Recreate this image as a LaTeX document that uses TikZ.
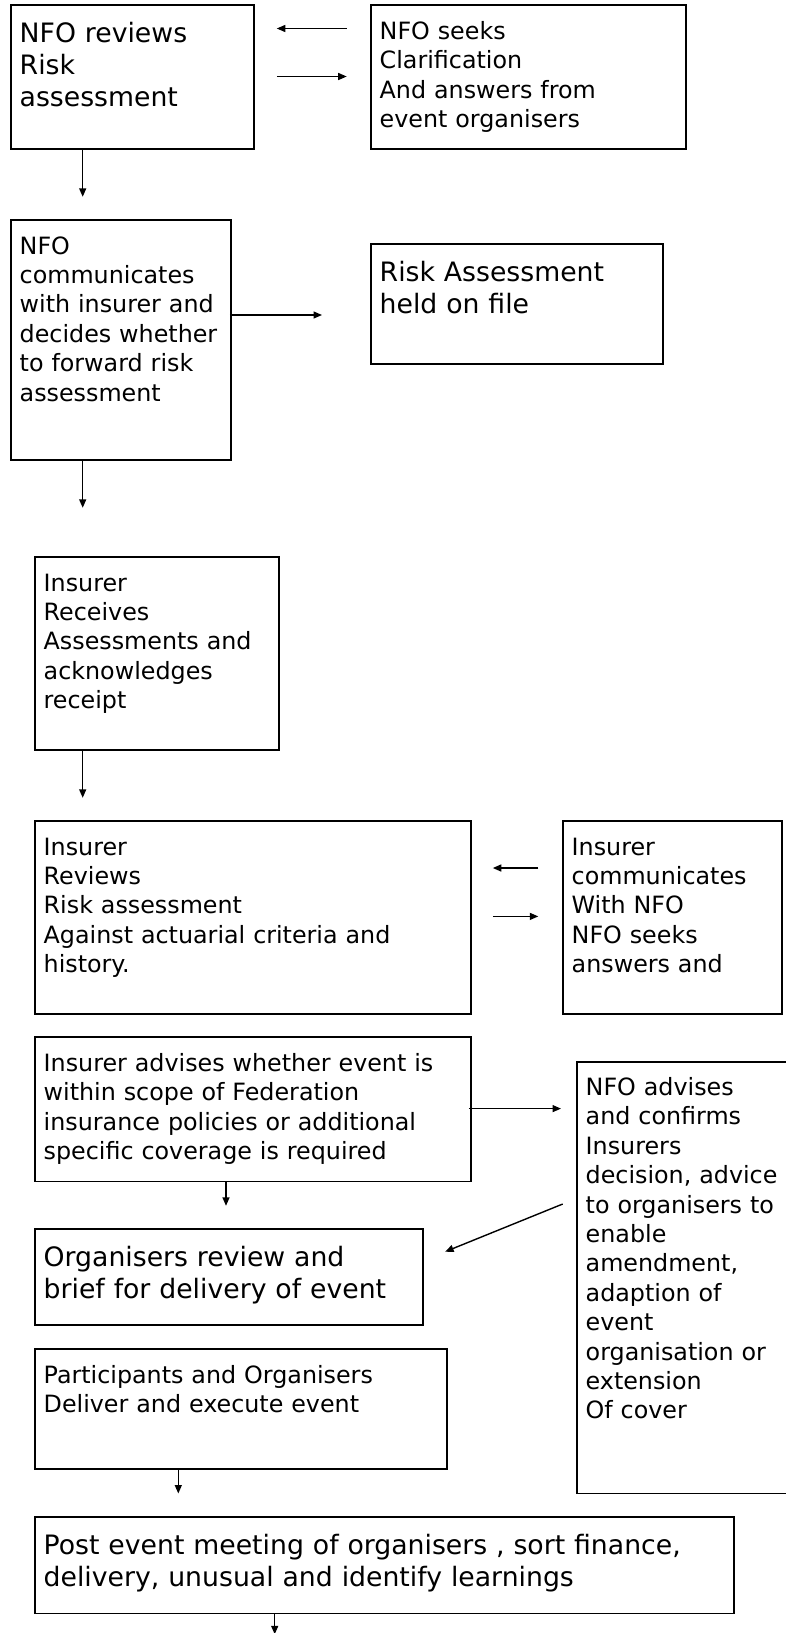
\documentclass[tikz,border=0pt]{standalone}
\usepackage{fontspec}
\setmainfont{DejaVu Sans}
\usetikzlibrary{arrows.meta,calc}
\begin{document}
\begin{tikzpicture}[x=1pt,y=-1pt,
  boxx/.style={draw, line width=1.8pt, rectangle, inner sep=0pt, anchor=north west},
  smalltxt/.style={anchor=base west, inner sep=0pt, text width=500pt, align=left,
     font=\fontsize{23.8}{29.4}\selectfont},
  bigtxt/.style={anchor=base west, inner sep=0pt, text width=700pt, align=left,
     font=\fontsize{26.7}{32.3}\selectfont},
  arr/.style={line width=1.4pt, -{Triangle[length=8.5pt,width=7pt]}}]
\useasboundingbox[fill=white] (0,0) rectangle (786,1633);

% boxes
\node[boxx, minimum width=243pt, minimum height=143.7pt] (A) at (10,4.3) {};
\node[boxx, minimum width=315pt, minimum height=143.7pt] (B) at (370,4.3) {};
\node[boxx, minimum width=220pt, minimum height=240pt] (C) at (10,219) {};
\node[boxx, minimum width=292pt, minimum height=120pt] (D) at (370,243) {};
\node[boxx, minimum width=244pt, minimum height=193pt] (E) at (34,556) {};
\node[boxx, minimum width=436pt, minimum height=193pt] (F) at (34,820) {};
\node[boxx, minimum width=219pt, minimum height=193pt] (G) at (562,820) {};
\node[boxx, minimum width=436pt, minimum height=144.5pt] (H) at (34,1036) {};
\node[boxx, minimum width=230pt, minimum height=431.5pt] (J) at (576,1061) {};
\node[boxx, minimum width=388pt, minimum height=96pt] (K) at (34,1228) {};
\node[boxx, minimum width=412pt, minimum height=120pt] (L) at (34,1348) {};
\node[boxx, minimum width=699pt, minimum height=96.5pt] (M) at (34,1516) {};

% texts
\node[bigtxt] (At) at ($(A.north west)+(9.5,38)$) {NFO reviews\\Risk\\assessment};
\node[smalltxt] (Bt) at ($(B.north west)+(9.5,35)$) {NFO seeks\\Clarification\\And answers from\\event organisers};
\node[smalltxt] (Ct) at ($(C.north west)+(9.5,35)$) {NFO\\communicates\\with insurer and\\decides whether\\to forward risk\\assessment};
\node[bigtxt] (Dt) at ($(D.north west)+(9.5,38)$) {Risk Assessment\\held on file};
\node[smalltxt] (Et) at ($(E.north west)+(9.5,35)$) {Insurer\\Receives\\Assessments and\\acknowledges\\receipt};
\node[smalltxt] (Ft) at ($(F.north west)+(9.5,35)$) {Insurer\\Reviews\\Risk assessment\\Against actuarial criteria and\\history.};
\node[smalltxt] (Gt) at ($(G.north west)+(9.5,35)$) {Insurer\\communicates\\With NFO\\NFO seeks\\answers and};
\node[smalltxt] (Ht) at ($(H.north west)+(9.5,35.5)$) {Insurer advises whether event is\\within scope of Federation\\insurance policies or additional\\specific coverage is required};
\node[smalltxt] (Jt) at ($(J.north west)+(9.5,34.5)$) {NFO advises\\and confirms\\Insurers\\decision, advice\\to organisers to\\enable\\amendment,\\adaption of\\event\\organisation or\\extension\\Of cover};
\node[bigtxt] (Kt) at ($(K.north west)+(9.5,38)$) {Organisers review and\\brief for delivery of event};
\node[smalltxt] (Lt) at ($(L.north west)+(9.5,35.5)$) {Participants and Organisers\\Deliver and execute event};
\node[bigtxt] (Mt) at ($(M.north west)+(9.5,38)$) {Post event meeting of organisers , sort finance,\\delivery, unusual and identify learnings};

% connectors
\draw[arr] ($(B.north west)+(-23.3,24.2)$) -- ($(A.north east)+(22,24.2)$);
\draw[arr] ($(A.north east)+(22,72.2)$) -- ($(B.north west)+(-23.3,72.2)$);
\draw[arr] ($(A.south west)+(72.7,0)$) -- ++(0,47);
\draw[arr] ($(C.north east)+(-2,96)$) -- ($(D.north west)+(-48,72)$);
\draw[arr] ($(C.south west)+(72.7,0)$) -- ++(0,47);
\draw[arr] ($(E.south west)+(48.7,0)$) -- ++(0,47);
\draw[arr] ($(G.north west)+(-23.7,48)$) -- ($(F.north east)+(21,48)$);
\draw[arr] ($(F.north east)+(21,96.4)$) -- ($(G.north west)+(-23.7,96.4)$);
\draw[arr] ($(H.north east)+(-3,72.6)$) -- ($(J.north west)+(-15,47.6)$);
\draw[arr] ($(H.south west)+(192,0)$) -- ++(0,23.5);
\draw[arr] ($(J.north west)+(-13.3,143)$) -- ($(K.north east)+(21.3,23.7)$);
\draw[arr] ($(L.south west)+(144.3,0)$) -- ++(0,23.7);
\draw[arr] ($(M.south west)+(240.7,0)$) -- ++(0,20);
\end{tikzpicture}
\end{document}
